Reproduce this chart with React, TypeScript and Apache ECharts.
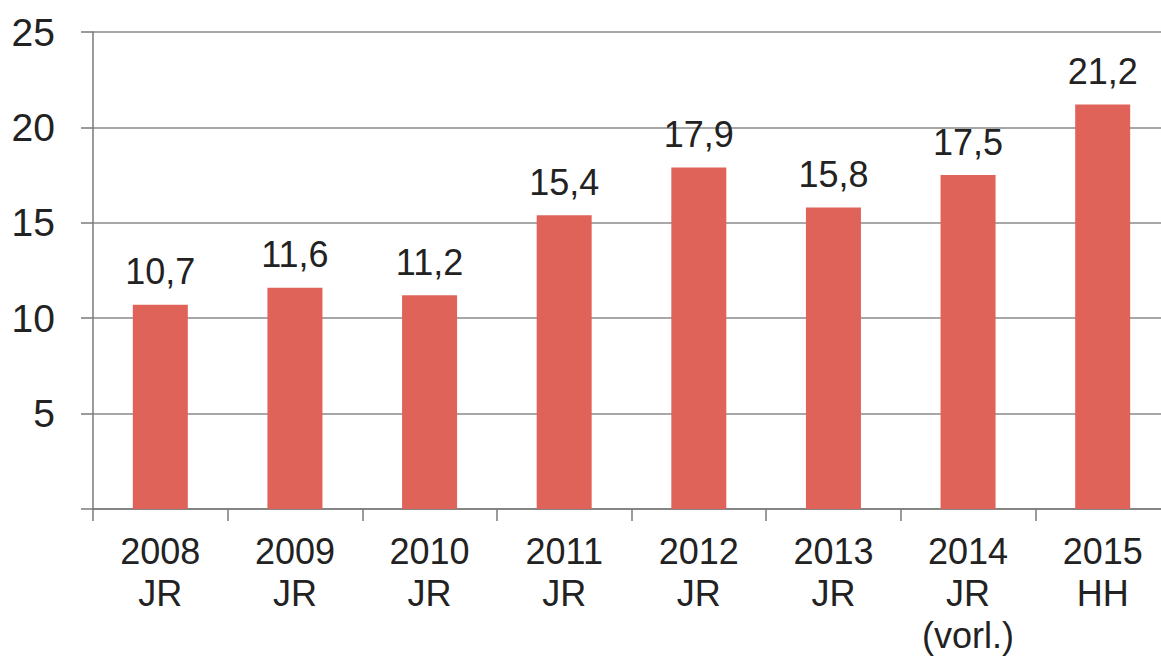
import React, { useEffect, useRef } from "react";
import * as echarts from "echarts";

const categories = ["2008\nJR", "2009\nJR", "2010\nJR", "2011\nJR", "2012\nJR", "2013\nJR", "2014\nJR\n(vorl.)", "2015\nHH"];
const values = [10.7, 11.6, 11.2, 15.4, 17.9, 15.8, 17.5, 21.2];
const yTicks = { min: 0, max: 25, interval: 5 };

const FONT = "'Liberation Sans', Arial, sans-serif";

export default function App() {
  const ref = useRef<HTMLDivElement>(null);
  useEffect(() => {
    if (!ref.current) return;
    const chart = echarts.init(ref.current, null, { renderer: "svg" });
    chart.setOption({
      animation: false,
      backgroundColor: "#ffffff",
      grid: { left: 93, top: 32, width: 1077, height: 477, containLabel: false, outerBoundsMode: "none" },
      xAxis: {
        type: "category",
        data: categories,
        axisLine: { show: true, lineStyle: { color: "#7a7a7a", width: 1.5 } },
        axisTick: { show: true, length: 12, lineStyle: { color: "#7a7a7a", width: 1.5 } },
        axisLabel: {
          color: "#222",
          fontFamily: FONT,
          fontSize: 36,
          lineHeight: 42,
          margin: 21,
          interval: 0,
        },
      },
      yAxis: {
        type: "value",
        min: yTicks.min,
        max: yTicks.max,
        interval: yTicks.interval,
        axisLine: { show: true, lineStyle: { color: "#7a7a7a", width: 1.5 } },
        axisTick: { show: true, length: 12, lineStyle: { color: "#7a7a7a", width: 1.5 } },
        splitLine: { show: true, lineStyle: { color: "#8a8a8a", width: 1.5 } },
        axisLabel: {
          color: "#222",
          fontFamily: FONT,
          fontSize: 39,
          margin: 38,
          formatter: (v: number) => (v === 0 ? "" : String(v)),
        },
      },
      series: [
        {
          type: "bar",
          data: values,
          barWidth: 55,
          itemStyle: { color: "#e0635a" },
          label: {
            show: true,
            position: "top",
            distance: 15,
            color: "#222",
            fontFamily: FONT,
            fontSize: 36,
            formatter: (p: any) => String(p.value).replace(".", ","),
          },
        },
      ],
    });
    return () => chart.dispose();
  }, []);
  return (
    <div
      ref={ref}
      style={{ position: "absolute", left: 0, top: 0, width: 1161, height: 658, overflow: "hidden" }}
    />
  );
}
